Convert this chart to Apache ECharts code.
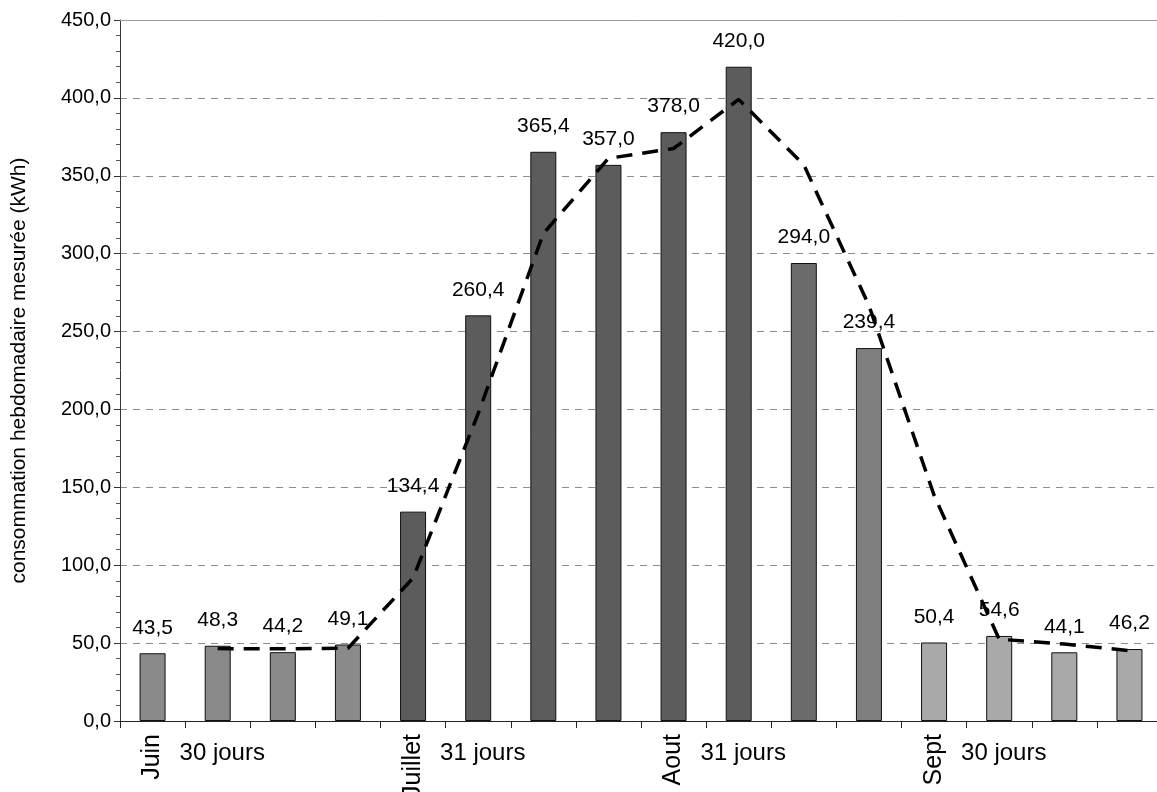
<!DOCTYPE html>
<html>
<head>
<meta charset="utf-8">
<script src="https://cdn.jsdelivr.net/npm/echarts@6/dist/echarts.min.js"></script>
<style>
html,body{margin:0;padding:0;background:#fff;}
#c{width:1157px;height:792px;}
</style>
</head>
<body>
<div id="c"></div>
<script>
// Data
var weeks = ['S1','S2','S3','S4','S5','S6','S7','S8','S9','S10','S11','S12','S13','S14','S15','S16'];
var monthLabels = ['Juin','','','','Juillet','','','','Aout','','','','Sept','','',''];
var dayLabels = ['30 jours','','','','31 jours','','','','31 jours','','','','30 jours','','',''];
var consumption = [43.5, 48.3, 44.2, 49.1, 134.4, 260.4, 365.4, 357.0, 378.0, 420.0, 294.0, 239.4, 50.4, 54.6, 44.1, 46.2];
var trend = [null, 46.5, 46.3, 46.7, 91.8, 197.4, 312.9, 361.2, 367.5, 399.0, 357.0, 266.7, 144.9, 52.5, 49.4, 45.2];
var yTicks = [0, 50, 100, 150, 200, 250, 300, 350, 400, 450];

// Styles
var barColors = ['#8a8a8a','#8a8a8a','#8a8a8a','#8a8a8a',
                 '#5c5c5c','#5c5c5c','#5c5c5c','#5c5c5c','#5c5c5c','#5c5c5c',
                 '#6c6c6c','#7e7e7e',
                 '#a9a9a9','#a9a9a9','#a9a9a9','#a9a9a9'];
var FONT = '"Liberation Sans", Arial, sans-serif';
function fmt(v){ return v.toFixed(1).replace('.', ','); }

var chart = echarts.init(document.getElementById('c'), null, {renderer:'canvas'});
chart.setOption({
  animation: false,
  backgroundColor: '#ffffff',
  textStyle: {fontFamily: FONT, color: '#000'},
  grid: {left: 120, right: -5, top: 20, bottom: 71, containLabel: false, outerBoundsMode: 'none'},
  xAxis: [
    {
      type: 'category', data: monthLabels, position: 'bottom',
      axisLine: {show: true, lineStyle: {color: '#222', width: 1}},
      axisTick: {show: true, alignWithLabel: false, length: 7, lineStyle: {color: '#222'}},
      axisLabel: {interval: 0, rotate: 90, margin: 13, fontSize: 25, color: '#000', fontFamily: FONT}
    },
    {
      type: 'category', data: dayLabels, position: 'bottom', offset: 0,
      axisLine: {show: false}, axisTick: {show: false},
      axisLabel: {interval: 0, margin: 20, fontSize: 24, color: '#000', fontFamily: FONT,
                  align: 'left', padding: [0, 0, 0, 27]}
    },
    {
      type: 'category', data: weeks, position: 'top',
      axisLine: {show: true, lineStyle: {color: '#9a9a9a', width: 1}},
      axisTick: {show: false}, axisLabel: {show: false}
    }
  ],
  yAxis: {
    type: 'value', min: yTicks[0], max: yTicks[yTicks.length-1], interval: 50,
    name: 'consommation hebdomadaire mesurée (kWh)', nameLocation: 'middle', nameGap: 90,
    nameTextStyle: {fontSize: 21, color: '#000', fontFamily: FONT},
    axisLine: {show: true, lineStyle: {color: '#333', width: 1}},
    axisTick: {show: true, length: 6, lineStyle: {color: '#333'}},
    minorTick: {show: true, splitNumber: 5, length: 4, lineStyle: {color: '#555'}},
    axisLabel: {formatter: fmt, fontSize: 20, margin: 9, color: '#000', fontFamily: FONT},
    splitLine: {show: true, lineStyle: {color: '#8c8c8c', type: [7, 6], width: 1}}
  },
  series: [
    {
      type: 'bar', name: 'consommation', data: consumption,
      barWidth: 26,
      itemStyle: {color: function(p){ return barColors[p.dataIndex]; }, borderColor: '#111', borderWidth: 1},
      label: {show: true, position: 'top', distance: 15, fontSize: 21, color: '#000', fontFamily: FONT,
              formatter: function(p){ return fmt(p.value); }},
      z: 2
    },
    {
      type: 'line', name: 'moyenne mobile', data: trend, xAxisIndex: 0,
      showSymbol: false, symbol: 'none', connectNulls: false,
      lineStyle: {color: '#000', width: 3.5, type: [16, 10]},
      z: 3
    }
  ]
});
</script>
</body>
</html>
